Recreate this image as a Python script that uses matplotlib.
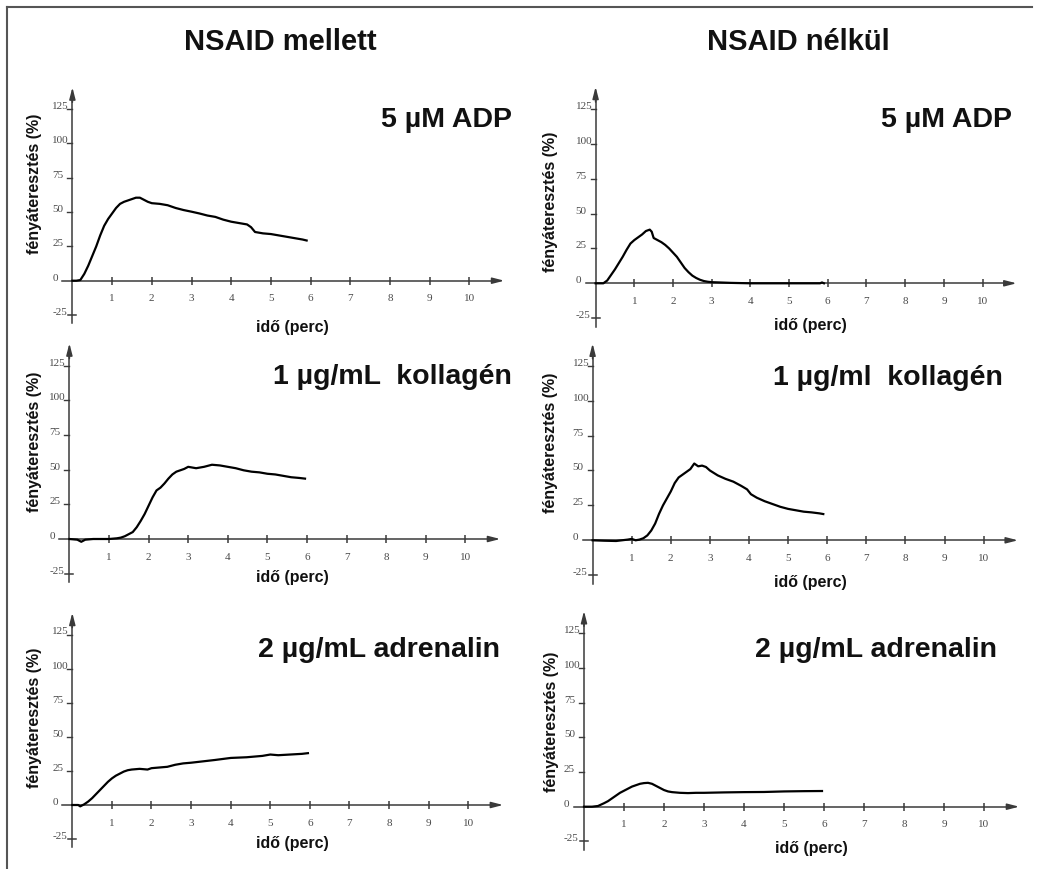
import matplotlib.pyplot as plt
from matplotlib.lines import Line2D

# --- adatok (leolvasva) ---
t_adp_mellett = [0, 0.1, 0.2, 0.3, 0.4, 0.5, 0.6, 0.7, 0.8, 0.9, 1.0, 1.1, 1.2, 1.3, 1.4, 1.5, 1.6, 1.7,
                 1.8, 1.9, 2.0, 2.2, 2.4, 2.6, 2.8, 3.0, 3.2, 3.4, 3.6, 3.8, 4.0, 4.2, 4.4, 4.5, 4.6, 4.8,
                 5.0, 5.2, 5.4, 5.6, 5.8, 5.9]
y_adp_mellett = [0, 0, 0.5, 5, 11, 18, 25, 33, 40, 45, 49, 53, 56, 57.5, 58.5, 59.5, 60.5, 60.5,
                 59, 57.5, 56.5, 56, 55, 53, 51.5, 50.3, 49, 47.5, 46.5, 44.5, 43, 42, 41, 39, 35.5, 34.5,
                 34, 33, 32, 31, 30, 29.3]

t_adp_nelkul = [0, 0.2, 0.3, 0.4, 0.5, 0.6, 0.7, 0.8, 0.9, 1.0, 1.1, 1.2, 1.3, 1.4, 1.45, 1.5, 1.6, 1.7,
                1.8, 1.9, 2.0, 2.1, 2.2, 2.3, 2.4, 2.5, 2.6, 2.7, 2.8, 2.9, 3.0, 3.5, 4.0, 5.0, 5.8, 5.85, 5.9]
y_adp_nelkul = [0, 0, 2, 6, 10, 14.5, 19, 24, 28.5, 31, 33, 35, 37.5, 38.5, 37, 32.5, 31, 29.5,
                27.5, 25, 22, 19, 15, 11, 8, 5.5, 3.8, 2.5, 1.6, 1.1, 0.8, 0.3, 0, 0, 0, 0.6, 0]

t_kol_mellett = [0, 0.2, 0.3, 0.4, 0.6, 0.8, 1.0, 1.2, 1.3, 1.4, 1.5, 1.6, 1.7, 1.8, 1.9, 2.0, 2.1, 2.2,
                 2.3, 2.4, 2.5, 2.6, 2.7, 2.8, 2.9, 3.0, 3.2, 3.4, 3.6, 3.8, 4.0, 4.2, 4.4, 4.6, 4.8, 5.0,
                 5.2, 5.4, 5.6, 5.8, 5.95]
y_kol_mellett = [0, -0.5, -2, -0.5, 0, 0, 0, 0.5, 1, 2, 3.5, 5, 8.5, 13, 18, 24, 30, 35,
                 37, 40, 43.5, 46.5, 48.5, 49.5, 50.5, 52, 51, 52, 53.5, 53, 52, 51, 49.5, 48.5, 48, 47,
                 46.5, 45.5, 44.5, 44, 43.5]

t_kol_nelkul = [0, 0.3, 0.6, 0.9, 1.0, 1.1, 1.2, 1.3, 1.4, 1.5, 1.6, 1.7, 1.8, 1.9, 2.0, 2.1, 2.2, 2.3,
                2.4, 2.5, 2.6, 2.7, 2.8, 2.9, 3.0, 3.2, 3.4, 3.6, 3.8, 3.95, 4.05, 4.2, 4.4, 4.6, 4.8, 5.0,
                5.2, 5.4, 5.6, 5.8, 5.9]
y_kol_nelkul = [0, -0.3, -0.5, 0.5, 1, 0, 0.5, 1.5, 3.5, 7, 12, 19, 25, 30, 35, 41, 45, 47,
                49, 51, 55, 53, 53.5, 52.5, 50, 46.5, 44, 42, 39, 36.5, 33, 30.5, 28, 26, 24, 22.5,
                21.5, 20.5, 20, 19.3, 18.8]

t_adr_mellett = [0, 0.15, 0.2, 0.3, 0.4, 0.5, 0.6, 0.7, 0.8, 0.9, 1.0, 1.1, 1.2, 1.3, 1.4, 1.5, 1.7, 1.9,
                 2.0, 2.2, 2.4, 2.6, 2.8, 3.0, 3.3, 3.6, 4.0, 4.4, 4.8, 5.0, 5.2, 5.5, 5.8, 5.95]
y_adr_mellett = [0, 0, -1, 0.5, 2.5, 5, 8, 11, 14, 17, 19.5, 21.5, 23, 24.5, 25.5, 26, 26.5, 26,
                 27, 27.5, 28, 29.5, 30.5, 31, 32, 33, 34.5, 35, 36, 37, 36.5, 37, 37.5, 38]

t_adr_nelkul = [0, 0.2, 0.35, 0.5, 0.6, 0.7, 0.8, 0.9, 1.0, 1.1, 1.2, 1.3, 1.4, 1.5, 1.6, 1.7, 1.8, 1.9,
                2.0, 2.1, 2.2, 2.4, 2.6, 2.8, 3.0, 3.5, 4.0, 4.5, 5.0, 5.5, 5.95]
y_adr_nelkul = [0, 0, 0.5, 2.5, 4, 6, 8, 10, 11.5, 13, 14.5, 15.5, 16.5, 17, 17.2, 16.5, 15, 13.5,
                12, 11, 10.5, 10, 9.8, 10, 10, 10.3, 10.5, 10.6, 11, 11.2, 11.3]

oszlop_cimek = ['NSAID mellett', 'NSAID nélkül']
panel_cimek = ['5 µM ADP', '5 µM ADP', '1 µg/mL  kollagén', '1 µg/ml  kollagén',
               '2 µg/mL adrenalin', '2 µg/mL adrenalin']
x_ticks = [1, 2, 3, 4, 5, 6, 7, 8, 9, 10]
y_ticks = [-25, 0, 25, 50, 75, 100, 125]

gorbek = [(t_adp_mellett, y_adp_mellett), (t_adp_nelkul, y_adp_nelkul),
          (t_kol_mellett, y_kol_mellett), (t_kol_nelkul, y_kol_nelkul),
          (t_adr_mellett, y_adr_mellett), (t_adr_nelkul, y_adr_nelkul)]

# panel elhelyezés pixelben: origó x, origó y, px/perc, px/%
geom = [(72.4, 280.7, 39.7, 1.372), (595.6, 283.3, 38.7, 1.394),
        (69.4, 539.0, 39.6, 1.388), (592.6, 540.3, 39.1, 1.396),
        (72.3, 805.0, 39.6, 1.364), (584.0, 806.7, 40.0, 1.388)]
cim_pos = [(512, 127), (1012, 127), (512, 384), (1003, 385), (500, 657), (997, 657)]
xlab_pos = [(292, 332), (810, 330), (292, 582), (810, 587), (292, 848), (811, 853)]
ylab_pos = [(35, 184), (550, 202), (35, 442), (550, 443), (35, 718), (551, 722)]

W, H = 1039, 869
SANS = 'Liberation Sans'
SERIF = 'Liberation Serif'
AX_COL = '#3a3a3a'

fig = plt.figure(figsize=(W / 100, H / 100), dpi=100)

def fx(px):
    return px / W

def fy(py):
    return 1 - py / H

XMIN, XMAX, YMIN, YMAX = -1.2, 11.4, -40, 150

for i, (t, y) in enumerate(gorbek):
    x0, y0, sx, sy = geom[i]
    left = x0 + XMIN * sx
    top = y0 - YMAX * sy
    w = (XMAX - XMIN) * sx
    h = (YMAX - YMIN) * sy
    ax = fig.add_axes([fx(left), fy(top + h), w / W, h / H])
    ax.set_xlim(XMIN, XMAX)
    ax.set_ylim(YMIN, YMAX)
    ax.axis('off')

    # tengelyek nyíllal
    ax.plot([-10 / sx, 10.6], [0, 0], color=AX_COL, lw=1.1)
    ax.annotate('', xy=(10.95, 0), xytext=(10.5, 0),
                arrowprops=dict(arrowstyle='-|>,head_length=0.7,head_width=0.18',
                                color=AX_COL, lw=1.1))
    ax.plot([0, 0], [-31, 135], color=AX_COL, lw=1.1)
    ax.annotate('', xy=(0, 143), xytext=(0, 128),
                arrowprops=dict(arrowstyle='-|>,head_length=0.7,head_width=0.18',
                                color=AX_COL, lw=1.1))

    # osztások
    ax.vlines(x_ticks, -4 / sy, 4 / sy, color=AX_COL, lw=1.1)
    for v in y_ticks:
        if v == -25:
            ax.plot([-4 / sx, 4 / sx], [v, v], color=AX_COL, lw=1.1)
        elif v != 0:
            ax.plot([-5 / sx, 0], [v, v], color=AX_COL, lw=1.0)
        ax.text(-20 / sx, v + 2.5 / sy, str(v), ha='left', va='center',
                fontsize=8, family=SERIF, color='#4a4a4a')
    for v in x_ticks:
        ax.text(v, -18 / sy, str(v), ha='center', va='center',
                fontsize=8, family=SERIF, color='#4a4a4a')

    # görbe
    ax.plot(t, y, color='black', lw=1.6)

    # feliratok
    cx, cy = cim_pos[i]
    fig.text(fx(cx), fy(cy), panel_cimek[i], ha='right', va='baseline',
             fontsize=20.5, fontweight='bold', family=SANS, color='#111111')
    lx, ly = xlab_pos[i]
    fig.text(fx(lx), fy(ly), 'idő (perc)', ha='center', va='baseline',
             fontsize=11.5, fontweight='bold', family=SANS, color='#111111')
    yx, yy = ylab_pos[i]
    fig.text(fx(yx), fy(yy), 'fényáteresztés (%)', ha='center', va='center', rotation=90,
             fontsize=11.5, fontweight='bold', family=SANS, color='#111111')

# oszlopcímek
fig.text(fx(280), fy(50), oszlop_cimek[0], ha='center', va='baseline',
         fontsize=21, fontweight='bold', family=SANS, color='#111111')
fig.text(fx(798), fy(50), oszlop_cimek[1], ha='center', va='baseline',
         fontsize=21, fontweight='bold', family=SANS, color='#111111')

# keret (felső és bal vonal)
fig.add_artist(Line2D([fx(7), fx(1032)], [fy(7), fy(7)], color='#555555', lw=1.5))
fig.add_artist(Line2D([fx(7), fx(7)], [fy(7), fy(869)], color='#555555', lw=1.5))

fig.savefig('out.png', dpi=100)
